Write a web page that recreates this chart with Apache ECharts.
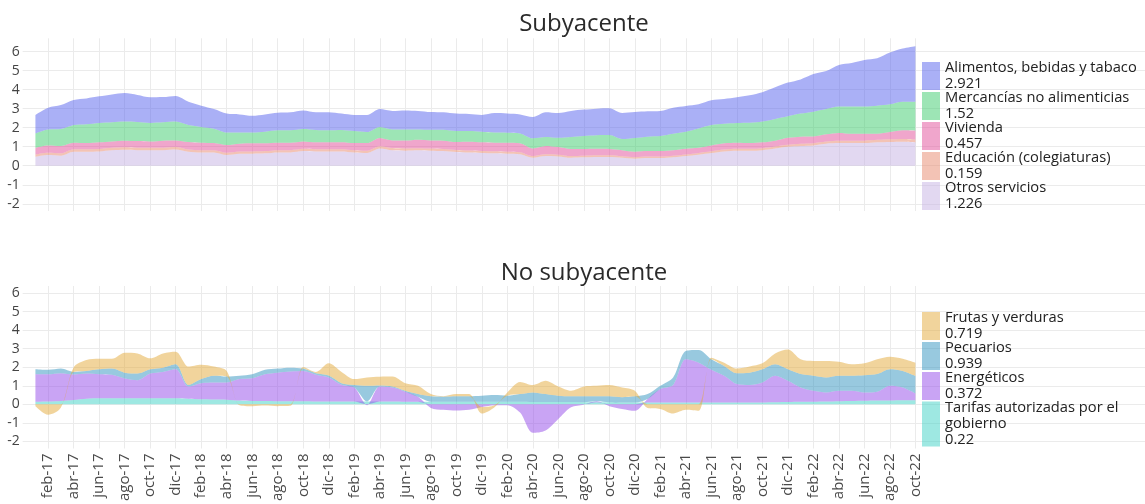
<!DOCTYPE html>
<html>
<head>
<meta charset="utf-8">
<script src="https://cdn.jsdelivr.net/npm/echarts@6/dist/echarts.min.js"></script>
<style>
  html, body { margin: 0; padding: 0; background: #fff; }
  #chart { width: 1145px; height: 504px; }
</style>
</head>
<body>
<div id="chart"></div>
<script>
const meses = [
  'ene-17','feb-17','mar-17','abr-17','may-17','jun-17','jul-17','ago-17','sep-17','oct-17','nov-17','dic-17',
  'ene-18','feb-18','mar-18','abr-18','may-18','jun-18','jul-18','ago-18','sep-18','oct-18','nov-18','dic-18',
  'ene-19','feb-19','mar-19','abr-19','may-19','jun-19','jul-19','ago-19','sep-19','oct-19','nov-19','dic-19',
  'ene-20','feb-20','mar-20','abr-20','may-20','jun-20','jul-20','ago-20','sep-20','oct-20','nov-20','dic-20',
  'ene-21','feb-21','mar-21','abr-21','may-21','jun-21','jul-21','ago-21','sep-21','oct-21','nov-21','dic-21',
  'ene-22','feb-22','mar-22','abr-22','may-22','jun-22','jul-22','ago-22','sep-22','oct-22'
]

// Subyacente
const otrosServicios = [0.47,0.56,0.53,0.74,0.74,0.75,0.81,0.84,0.82,0.81, 0.82,0.86,0.74,0.70,0.70,0.56,0.63,0.63,0.65,0.70, 0.70,0.77,0.75,0.75,0.75,0.70,0.67,0.91,0.81,0.79, 0.81,0.79,0.77,0.72,0.69,0.67,0.65,0.63,0.60,0.42, 0.51,0.49,0.42,0.44,0.46,0.46,0.42,0.37,0.40,0.40, 0.44,0.51,0.58,0.67,0.75,0.79,0.79,0.82,0.91,1.00, 1.04,1.07,1.16,1.19,1.19,1.19,1.23,1.25,1.26,1.226]
const educacion = [0.12,0.12,0.12,0.13,0.13,0.13,0.13,0.13,0.13,0.13, 0.13,0.13,0.12,0.12,0.12,0.12,0.12,0.12,0.12,0.12, 0.12,0.12,0.12,0.12,0.12,0.12,0.12,0.12,0.12,0.12, 0.11,0.11,0.11,0.11,0.11,0.11,0.11,0.11,0.11,0.09, 0.09,0.09,0.09,0.09,0.09,0.09,0.08,0.08,0.08,0.08, 0.08,0.08,0.09,0.09,0.10,0.10,0.10,0.10,0.10,0.10, 0.11,0.11,0.11,0.12,0.12,0.13,0.13,0.14,0.15,0.159]
const vivienda = [0.36,0.39,0.39,0.34,0.32,0.35,0.34,0.35,0.35,0.34, 0.37,0.34,0.39,0.39,0.37,0.41,0.41,0.43,0.41,0.39, 0.39,0.39,0.36,0.36,0.36,0.37,0.40,0.43,0.40,0.42, 0.45,0.43,0.44,0.42,0.46,0.45,0.45,0.47,0.47,0.40, 0.44,0.40,0.37,0.35,0.34,0.33,0.32,0.29,0.29,0.29, 0.29,0.30,0.28,0.31,0.33,0.32,0.30,0.31,0.31,0.37, 0.38,0.36,0.38,0.41,0.37,0.36,0.32,0.38,0.45,0.457]
const mercancias = [0.75,0.84,0.89,0.93,0.99,1.02,1.00,1.00,1.00,0.97, 0.96,0.99,0.89,0.83,0.76,0.66,0.59,0.57,0.61,0.65, 0.65,0.65,0.65,0.63,0.65,0.63,0.58,0.58,0.58,0.58, 0.54,0.56,0.57,0.57,0.56,0.56,0.54,0.53,0.52,0.53, 0.47,0.49,0.63,0.68,0.71,0.73,0.58,0.72,0.76,0.79, 0.87,0.90,1.01,1.07,1.03,1.04,1.07,1.09,1.14,1.13, 1.21,1.30,1.33,1.39,1.43,1.44,1.48,1.46,1.51,1.52]
const alimentos = [0.97,1.14,1.26,1.32,1.36,1.40,1.47,1.50,1.42,1.35, 1.33,1.35,1.23,1.12,1.03,0.99,0.95,0.88,0.91,0.93, 0.95,0.98,0.93,0.95,0.86,0.85,0.90,0.94,0.97,1.00, 0.97,0.93,0.92,0.92,0.90,0.88,1.02,1.01,1.00,1.12, 1.30,1.30,1.37,1.39,1.40,1.41,1.37,1.36,1.33,1.32, 1.37,1.35,1.27,1.30,1.30,1.35,1.44,1.54,1.66,1.77, 1.80,1.98,2.00,2.19,2.29,2.44,2.49,2.72,2.79,2.921]

// No subyacente
const tarifas = [0.14,0.15,0.18,0.23,0.30,0.32,0.32,0.32,0.32,0.32, 0.32,0.32,0.30,0.27,0.26,0.25,0.20,0.18,0.18,0.17, 0.17,0.16,0.15,0.15,0.15,0.15,0.15,0.15,0.15,0.14, 0.14,0.14,0.14,0.14,0.14,0.14,0.14,0.13,0.13,0.12, 0.12,0.12,0.12,0.11,0.11,0.11,0.10,0.10,0.10,0.10, 0.09,0.09,0.09,0.09,0.09,0.09,0.10,0.10,0.11,0.12, 0.13,0.14,0.15,0.17,0.18,0.19,0.20,0.21,0.22,0.22]
const energeticos = [1.48,1.47,1.50,1.38,1.36,1.30,1.27,1.07,0.98,1.34, 1.43,1.57,0.66,0.87,0.92,0.93,1.16,1.22,1.44,1.54, 1.60,1.64,1.45,1.30,0.90,0.75,-0.05,0.81,0.75,0.54, 0.26,-0.20,-0.30,-0.34,-0.30,-0.15,-0.05,-0.05,-0.45,-1.54, -1.41,-0.79,-0.16,-0.02,0.05,-0.10,-0.25,-0.35,0.19,0.72, 0.95,2.34,2.16,1.77,1.45,1.00,0.94,1.08,1.43,1.15, 0.78,0.59,0.49,0.56,0.55,0.45,0.48,0.79,0.69,0.372]
const pecuarios = [0.27,0.24,0.25,0.14,0.14,0.27,0.34,0.32,0.36,0.23, 0.23,0.27,0.08,0.22,0.36,0.32,0.18,0.22,0.24,0.22, 0.21,0.13,0.08,0.10,0.09,0.14,0.85,0.06,0.06,0.05, 0.15,0.29,0.27,0.29,0.29,0.32,0.36,0.33,0.42,0.52, 0.43,0.34,0.31,0.32,0.27,0.32,0.28,0.33,0.26,0.18, 0.41,0.45,0.68,0.57,0.53,0.59,0.67,0.71,0.62,0.62, 0.72,0.81,0.81,0.81,0.81,0.93,0.95,0.89,0.89,0.939]
const frutas = [-0.10,-0.57,-0.18,0.25,0.59,0.57,0.53,1.08,1.09,0.59, 0.77,0.68,1.00,0.78,0.50,0.30,-0.05,-0.10,-0.07,-0.10, -0.08,0.09,0.07,0.67,0.61,0.32,0.45,0.47,0.54,0.41, 0.45,0.12,0.02,0.12,0.12,-0.35,-0.11,0.18,0.66,0.40, 0.72,0.50,0.30,0.53,0.57,0.61,0.53,0.30,-0.20,-0.25, -0.50,-0.30,-0.35,0.09,0.18,0.25,0.33,0.32,0.59,1.07, 0.80,0.80,0.89,0.76,0.62,0.64,0.80,0.68,0.66,0.719]

const yTicks = [-2, -1, 0, 1, 2, 3, 4, 5, 6]

// stacked bottom to top
const subyacente = [
  { name: 'Otros servicios', values: otrosServicios, color: 'rgba(197,177,227,0.5)' },
  { name: 'Educación (colegiaturas)', values: educacion, color: 'rgba(231,135,107,0.5)' },
  { name: 'Vivienda', values: vivienda, color: 'rgba(225,77,153,0.5)' },
  { name: 'Mercancías no alimenticias', values: mercancias, color: 'rgba(59,203,107,0.5)' },
  { name: 'Alimentos, bebidas y tabaco', values: alimentos, color: 'rgba(85,97,237,0.5)' },
]
const noSubyacente = [
  { name: 'Tarifas autorizadas por el gobierno', values: tarifas, color: 'rgba(61,209,197,0.5)' },
  { name: 'Energéticos', values: energeticos, color: 'rgba(147,73,233,0.5)' },
  { name: 'Pecuarios', values: pecuarios, color: 'rgba(49,147,191,0.5)' },
  { name: 'Frutas y verduras', values: frutas, color: 'rgba(227,169,57,0.5)' },
]

// one empty slot before the data, some after it so the grid runs under the legend
const categories = ['_ini'].concat(meses)
for (let k = 0; k < 18; k++) categories.push('_fin' + k)

const lastValue = {}
subyacente.concat(noSubyacente).forEach((s) => {
  lastValue[s.name] = s.values[s.values.length - 1]
})

const font = "'Open Sans', sans-serif"
const monthTick = (index) => index >= 2 && index <= meses.length && index % 2 === 0

function xAxis(gridIndex, showLabels) {
  return {
    type: 'category',
    gridIndex,
    data: categories,
    boundaryGap: false,
    axisLine: { show: false },
    axisTick: { show: false },
    axisLabel: {
      show: showLabels,
      interval: (index) => monthTick(index),
      rotate: 90,
      margin: 5,
      fontFamily: font,
      fontSize: 15,
      color: '#4a4a4a',
    },
    splitLine: {
      show: true,
      interval: (index) => monthTick(index),
      lineStyle: { color: '#ebebeb', width: 1 },
    },
  }
}

function yAxis(gridIndex, min, max) {
  return {
    type: 'value',
    gridIndex,
    min,
    max,
    minInterval: 1,
    maxInterval: 1,
    axisLine: { show: false },
    axisTick: { show: false, customValues: yTicks },
    axisLabel: {
      customValues: yTicks,
      margin: 3,
      fontFamily: font,
      fontSize: 14,
      color: '#444',
    },
    splitLine: {
      show: true,
      lineStyle: { color: '#ebebeb', width: 1 },
    },
  }
}

function createSeries(list, stack, axisIndex) {
  return list.map((s) => ({
    name: s.name,
    type: 'line',
    stack,
    xAxisIndex: axisIndex,
    yAxisIndex: axisIndex,
    data: [null].concat(s.values),
    smooth: 0.3,
    symbol: 'none',
    showSymbol: false,
    silent: true,
    color: s.color,
    lineStyle: { width: 0 },
    areaStyle: { color: s.color, opacity: 1 },
    emphasis: { disabled: true },
  }))
}

function legend(names, top, itemHeight) {
  return {
    data: names,
    orient: 'vertical',
    left: 922,
    top,
    icon: 'rect',
    itemWidth: 18,
    itemHeight,
    itemGap: -2,
    selectedMode: false,
    padding: 0,
    formatter: (name) => {
      const label = name === 'Tarifas autorizadas por el gobierno'
        ? 'Tarifas autorizadas por el\ngobierno'
        : name
      return label + '\n' + lastValue[name]
    },
    textStyle: {
      fontFamily: font,
      fontSize: 14.7,
      lineHeight: 16,
      color: '#222',
    },
  }
}

const chart = echarts.init(document.getElementById('chart'))

chart.setOption({
  animation: false,
  backgroundColor: '#fff',
  title: [
    {
      text: 'Subyacente',
      left: 584,
      top: 12,
      padding: 0,
      textAlign: 'center',
      textStyle: { fontFamily: font, fontSize: 24, fontWeight: 'normal', color: '#2a2a2a' },
    },
    {
      text: 'No subyacente',
      left: 584,
      top: 261,
      padding: 0,
      textAlign: 'center',
      textStyle: { fontFamily: font, fontSize: 24, fontWeight: 'normal', color: '#2a2a2a' },
    },
  ],
  legend: [
    legend(subyacente.map((s) => s.name).reverse(), 60, 28),
    legend(['Frutas y verduras', 'Pecuarios', 'Energéticos'], 310, 28),
    legend(['Tarifas autorizadas por el gobierno'], 400, 45),
  ],
  grid: [
    { left: 22.67, top: 38.3, width: 1129, height: 172.7, containLabel: false },
    { left: 22.67, top: 286, width: 1129, height: 164, containLabel: false },
  ],
  xAxis: [xAxis(0, false), xAxis(1, true)],
  yAxis: [yAxis(0, -2.38, 6.7), yAxis(1, -2.39, 6.39)],
  series: createSeries(subyacente, 'sub', 0).concat(createSeries(noSubyacente, 'nosub', 1)),
})
</script>
</body>
</html>
